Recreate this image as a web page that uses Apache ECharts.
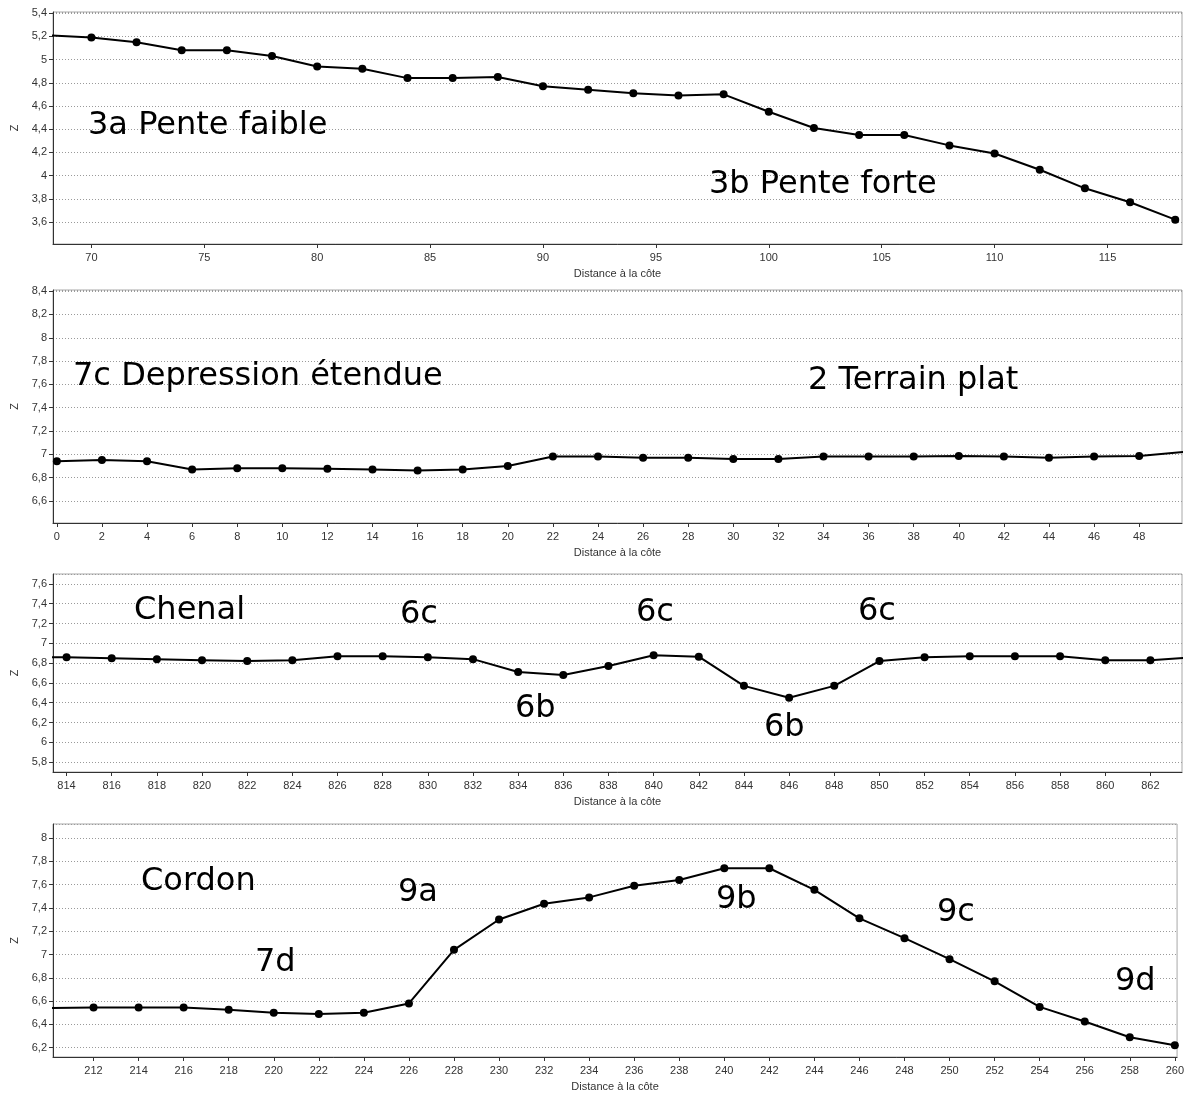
<!DOCTYPE html>
<html>
<head>
<meta charset="utf-8">
<script src="https://cdn.jsdelivr.net/npm/echarts@6/dist/echarts.min.js"></script>
<style>
html,body{margin:0;padding:0;background:#fff;}
#c{width:1187px;height:1093px;}
</style>
</head>
<body>
<div id="c"></div>
<script>
// Panel 1 : 3a / 3b
const dist1 = [68,70,72,74,76,78,80,82,84,86,88,90,92,94,96,98,100,102,104,106,108,110,112,114,116,118];
const z1 = [5.21,5.19,5.15,5.08,5.08,5.03,4.94,4.92,4.84,4.84,4.85,4.77,4.74,4.71,4.69,4.70,4.55,4.41,4.35,4.35,4.26,4.19,4.05,3.89,3.77,3.62];
// Panel 2 : 7c / 2
const dist2 = [0,2,4,6,8,10,12,14,16,18,20,22,24,26,28,30,32,34,36,38,40,42,44,46,48,50];
const z2 = [6.94,6.95,6.94,6.87,6.88,6.88,6.875,6.87,6.86,6.87,6.90,6.98,6.98,6.97,6.97,6.96,6.96,6.98,6.98,6.98,6.985,6.98,6.97,6.98,6.985,7.02];
// Panel 3 : Chenal
const dist3 = [812,814,816,818,820,822,824,826,828,830,832,834,836,838,840,842,844,846,848,850,852,854,856,858,860,862,864];
const z3 = [6.86,6.86,6.85,6.84,6.83,6.82,6.83,6.87,6.87,6.86,6.84,6.71,6.68,6.77,6.88,6.865,6.57,6.45,6.57,6.82,6.86,6.87,6.87,6.87,6.83,6.83,6.86];
// Panel 4 : Cordon
const dist4 = [210,212,214,216,218,220,222,224,226,228,230,232,234,236,238,240,242,244,246,248,250,252,254,256,258,260];
const z4 = [6.54,6.545,6.545,6.545,6.525,6.50,6.49,6.50,6.58,7.04,7.30,7.435,7.49,7.59,7.64,7.74,7.74,7.555,7.31,7.14,6.96,6.77,6.55,6.425,6.29,6.22];

const xTitle = 'Distance à la côte';
const yTitle = 'Z';

// annotation texts per panel
const notes1 = ['3a Pente faible','3b Pente forte'];
const notes2 = ['7c Depression étendue','2 Terrain plat'];
const notes3 = ['Chenal','6c','6c','6c','6b','6b'];
const notes4 = ['Cordon','9a','7d','9b','9c','9d'];

// layout (positions, not data)
const panels = [
  {top:12,  height:232, xMin:68.3,  xMax:118.3, xInt:5, yMin:3.41, yMax:5.41, x:dist1, y:z1,
   notes:notes1, pos:[[88,123],[709,182]]},
  {top:290, height:233, xMin:-0.17, xMax:49.9,  xInt:2, yMin:6.41, yMax:8.41, x:dist2, y:z2,
   notes:notes2, pos:[[73,374],[808,378]]},
  {top:574, height:198, xMin:813.4, xMax:863.4, xInt:2, yMin:5.7,  yMax:7.7,  x:dist3, y:z3,
   notes:notes3, pos:[[134,608],[400,612],[636,610],[858,609],[515,706],[764,725]]},
  {top:824, height:233, xMin:210.2, xMax:260.1, xInt:2, yMin:6.12, yMax:8.12, x:dist4, y:z4,
   notes:notes4, pos:[[141,879],[398,890],[255,960],[716,897],[937,910],[1115,979]]}
];

const fmt = v => String(Math.round(v*10)/10).replace('.', ',');
const lblFont = {color:'#333', fontSize:11, fontFamily:'Liberation Sans, Arial, sans-serif'};

const grid=[], xAxis=[], yAxis=[], series=[], graphic=[];
panels.forEach((p,i)=>{
  grid.push({left:53, right:5, top:p.top, height:p.height, show:true, borderColor:'#a8a8a8', borderWidth:1, backgroundColor:'#fff', containLabel:false});
  xAxis.push({
    type:'value', gridIndex:i, min:p.xMin, max:p.xMax, minInterval:p.xInt, maxInterval:p.xInt, splitNumber:10,
    name:xTitle, nameLocation:'middle', nameGap:24, nameTextStyle:Object.assign({}, lblFont),
    axisLine:{show:true, onZero:false, lineStyle:{color:'#333', width:1}},
    axisTick:{show:true, length:4, inside:false, lineStyle:{color:'#333'}},
    axisLabel:Object.assign({margin:8, showMinLabel:false, showMaxLabel:false, formatter:fmt}, lblFont),
    splitLine:{show:false}
  });
  yAxis.push({
    type:'value', gridIndex:i, min:p.yMin, max:p.yMax, minInterval:0.2, maxInterval:0.2, splitNumber:10,
    name:yTitle, nameLocation:'middle', nameGap:32, nameTextStyle:Object.assign({}, lblFont),
    axisLine:{show:true, onZero:false, lineStyle:{color:'#333', width:1}},
    axisTick:{show:true, length:4, inside:false, lineStyle:{color:'#333'}},
    axisLabel:Object.assign({margin:6, showMinLabel:false, showMaxLabel:false, formatter:fmt}, lblFont),
    splitLine:{show:true, lineStyle:{color:'#9a9a9a', type:[1,2], width:1}}
  });
  series.push({
    type:'line', xAxisIndex:i, yAxisIndex:i,
    data:p.x.map((d,k)=>[d,p.y[k]]),
    clip:true, symbol:'circle', symbolSize:8,
    lineStyle:{color:'#000', width:2}, itemStyle:{color:'#000'},
    emphasis:{disabled:true}, silent:true, animation:false
  });
  p.notes.forEach((t,k)=>{
    graphic.push({type:'text', left:p.pos[k][0], top:p.pos[k][1]-13, z:100,
      style:{text:t, fill:'#000', font:'32px "DejaVu Sans", sans-serif'}});
  });
});

const chart = echarts.init(document.getElementById('c'), null, {renderer:'canvas'});
chart.setOption({animation:false, backgroundColor:'#fff', grid, xAxis, yAxis, series, graphic});
</script>
</body>
</html>
